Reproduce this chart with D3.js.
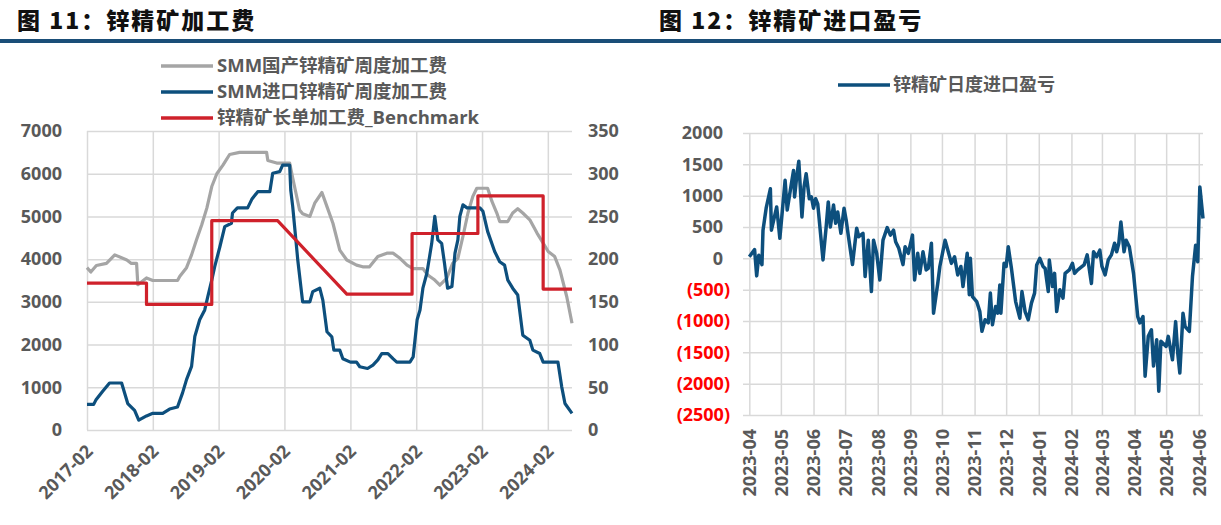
<!DOCTYPE html>
<html>
<head>
<meta charset="utf-8">
<script src="https://cdn.jsdelivr.net/npm/d3@7"></script>
<style>
  body { margin: 0; background: #fff; }
  text { font-family: "Open Sans", "Noto Sans CJK SC", sans-serif; font-weight: 700; }
</style>
</head>
<body>
<svg id="chart" width="1221" height="525"></svg>
<script>
// ---- data: chart 11 (TC, weekly) ----
const domesticTC = [
  ["2017-02-01",3800],["2017-02-22",3700],["2017-03-25",3850],["2017-05-20",3900],["2017-07-05",4100],
  ["2017-09-10",3980],["2017-10-05",3900],["2017-11-03",3900],["2017-11-10",3400],["2017-12-28",3560],
  ["2018-02-01",3500],["2018-06-18",3500],["2018-07-01",3600],["2018-08-07",3800],["2018-09-04",4100],
  ["2018-10-01",4450],["2018-10-30",4800],["2018-11-28",5200],["2018-12-25",5700],["2019-01-22",6000],
  ["2019-02-25",6200],["2019-04-03",6450],["2019-05-28",6500],["2019-10-25",6500],["2019-11-01",6310],
  ["2019-12-20",6250],["2020-03-01",6250],["2020-03-18",5900],["2020-04-25",5150],["2020-05-12",5060],
  ["2020-06-21",5000],["2020-07-18",5310],["2020-08-27",5560],["2020-09-24",5230],["2020-10-27",4840],
  ["2020-12-04",4210],["2021-01-12",3980],["2021-03-07",3860],["2021-04-10",3820],["2021-05-18",3820],
  ["2021-07-03",4060],["2021-08-22",4140],["2021-09-25",4140],["2021-11-03",4020],["2021-12-12",3860],
  ["2022-01-15",3780],["2022-03-10",3780],["2022-04-06",3630],["2022-05-15",3510],["2022-06-12",3390],
  ["2022-07-20",3550],["2022-08-22",3900],["2022-09-20",4020],["2022-10-18",4530],["2022-11-15",5080],
  ["2022-12-12",5470],["2023-01-03",5660],["2023-03-04",5660],["2023-03-28",5350],["2023-04-24",5080],
  ["2023-05-10",4880],["2023-06-24",4880],["2023-07-21",5080],["2023-08-18",5180],["2023-09-15",5080],
  ["2023-10-24",4920],["2023-12-03",4610],["2024-01-01",4410],["2024-02-03",4180],["2024-03-10",4060],
  ["2024-04-08",3750],["2024-05-16",3120],["2024-06-14",2500]
];
const importTC = [
  ["2017-02-01",30],["2017-03-10",30],["2017-03-22",35],["2017-04-28",45],["2017-06-06",55],
  ["2017-08-12",55],["2017-09-15",31],["2017-10-23",23],["2017-11-15",11.5],["2017-12-28",16.5],
  ["2018-02-01",19.5],["2018-03-28",19.5],["2018-05-05",24.5],["2018-06-18",27],["2018-07-16",43.5],
  ["2018-08-07",59],["2018-09-04",74.5],["2018-09-22",109.5],["2018-10-19",129],["2018-11-16",140.5],
  ["2018-12-03",156],["2018-12-25",175.5],["2019-01-10",191],["2019-02-08",214.5],["2019-03-07",238],
  ["2019-04-13",242],["2019-04-19",254],["2019-05-16",260],["2019-07-12",260],["2019-08-04",270],
  ["2019-09-06",279],["2019-11-12",279],["2019-11-28",300.5],["2020-01-06",302.5],["2020-01-22",310],
  ["2020-03-01",310],["2020-03-07",281],["2020-03-18",261.5],["2020-04-15",199],["2020-05-12",150],
  ["2020-06-21",150],["2020-07-07",162],["2020-08-15",166],["2020-09-01",152],["2020-09-24",115],
  ["2020-10-21",109],["2020-11-01",93.5],["2020-12-04",93.5],["2020-12-21",83.5],["2021-02-01",79.5],
  ["2021-03-07",79.5],["2021-03-25",74],["2021-05-07",72],["2021-06-06",76],["2021-07-03",82],
  ["2021-07-25",89.5],["2021-08-28",89.5],["2021-09-25",83.5],["2021-10-16",79.5],["2021-12-28",79.5],
  ["2022-01-15",85.5],["2022-02-06",129],["2022-02-22",140.5],["2022-03-10",166],["2022-04-01",183.5],
  ["2022-04-28",218.5],["2022-05-15",250],["2022-06-01",222.5],["2022-06-22",218.5],["2022-07-08",195],
  ["2022-07-25",166],["2022-08-18",168],["2022-09-04",207],["2022-09-20",222.5],["2022-10-01",250],
  ["2022-10-18",263.5],["2022-11-10",260],["2023-01-20",260],["2023-02-06",256],["2023-03-04",232.5],
  ["2023-04-12",209],["2023-05-10",197],["2023-06-06",193],["2023-06-24",175.5],["2023-07-21",166],
  ["2023-08-18",158],["2023-09-15",111],["2023-10-24",105],["2023-11-10",93.5],["2023-12-18",89.5],
  ["2024-01-06",79.5],["2024-03-28",79.5],["2024-04-18",50.5],["2024-05-06",31],["2024-06-14",19.5]
];
const benchmarkTC = [
  ["2017-02-01",172],["2017-12-28",172],["2017-12-28",147],["2018-12-25",147],["2018-12-25",245],
  ["2019-12-25",245],["2021-01-12",159],["2022-01-09",159],["2022-01-09",230],["2023-01-09",230],
  ["2023-01-09",274],["2024-01-06",274],["2024-01-06",165],["2024-06-14",165]
];
const leftTicks = [0, 1000, 2000, 3000, 4000, 5000, 6000, 7000];
const rightTicks = [0, 50, 100, 150, 200, 250, 300, 350];
const yearLabels = ["2017-02","2018-02","2019-02","2020-02","2021-02","2022-02","2023-02","2024-02"];
const legend11 = ["SMM国产锌精矿周度加工费", "SMM进口锌精矿周度加工费", "锌精矿长单加工费_Benchmark"];

// ---- data: chart 12 (daily import profit) ----
const importProfit = [
  ["2023-04-01",25],["2023-04-06",140],["2023-04-08",-280],["2023-04-10",50],["2023-04-13",-100],
  ["2023-04-14",450],["2023-04-17",800],["2023-04-21",1110],["2023-04-22",450],["2023-04-27",820],
  ["2023-04-30",320],["2023-05-05",1245],["2023-05-07",770],["2023-05-10",1090],["2023-05-13",1400],
  ["2023-05-14",980],["2023-05-16",1300],["2023-05-18",1550],["2023-05-21",660],["2023-05-23",1140],
  ["2023-05-25",1350],["2023-05-28",950],["2023-05-30",980],["2023-06-01",800],["2023-06-03",950],
  ["2023-06-05",870],["2023-06-10",-25],["2023-06-13",500],["2023-06-15",900],["2023-06-17",500],
  ["2023-06-20",850],["2023-06-22",560],["2023-06-24",740],["2023-06-27",400],["2023-06-30",800],
  ["2023-07-02",610],["2023-07-04",370],["2023-07-08",-100],["2023-07-12",480],["2023-07-14",345],
  ["2023-07-18",400],["2023-07-20",-290],["2023-07-23",290],["2023-07-26",-530],["2023-07-28",290],
  ["2023-07-31",80],["2023-08-03",-345],["2023-08-06",290],["2023-08-10",490],["2023-08-13",370],
  ["2023-08-16",450],["2023-08-18",265],["2023-08-21",160],["2023-08-25",-100],["2023-08-27",185],
  ["2023-08-30",80],["2023-09-03",370],["2023-09-05",-345],["2023-09-08",80],["2023-09-10",-240],
  ["2023-09-13",105],["2023-09-16",-185],["2023-09-18",-160],["2023-09-21",240],["2023-09-23",-875],
  ["2023-09-27",-400],["2023-09-29",-130],["2023-10-04",290],["2023-10-07",105],["2023-10-10",-80],
  ["2023-10-13",25],["2023-10-16",-265],["2023-10-19",-130],["2023-10-21",-450],["2023-10-25",80],
  ["2023-10-27",-580],["2023-10-28",0],["2023-10-30",-610],["2023-11-03",-690],["2023-11-06",-850],
  ["2023-11-08",-1165],["2023-11-11",-980],["2023-11-14",-1030],["2023-11-16",-555],["2023-11-18",-1060],
  ["2023-11-21",-770],["2023-11-23",-875],["2023-11-25",-425],["2023-11-26",-875],["2023-11-29",-80],
  ["2023-12-01",-130],["2023-12-03",185],["2023-12-06",-160],["2023-12-10",-690],["2023-12-14",-955],
  ["2023-12-16",-530],["2023-12-19",-850],["2023-12-22",-980],["2023-12-25",-715],["2023-12-28",-555],
  ["2023-12-30",-105],["2024-01-02",0],["2024-01-05",-130],["2024-01-07",-160],["2024-01-10",-530],
  ["2024-01-11",-25],["2024-01-14",-450],["2024-01-16",-240],["2024-01-18",-850],["2024-01-21",-500],
  ["2024-01-24",-635],["2024-01-26",-240],["2024-01-30",-185],["2024-02-02",-80],["2024-02-04",-240],
  ["2024-02-07",-185],["2024-02-13",-105],["2024-02-16",55],["2024-02-20",-400],["2024-02-22",105],
  ["2024-02-25",25],["2024-02-28",130],["2024-03-01",-130],["2024-03-04",-265],["2024-03-07",-25],
  ["2024-03-10",55],["2024-03-13",240],["2024-03-15",105],["2024-03-17",240],["2024-03-19",580],
  ["2024-03-22",105],["2024-03-24",290],["2024-03-27",185],["2024-03-31",-240],["2024-04-04",-930],
  ["2024-04-06",-1030],["2024-04-09",-930],["2024-04-11",-1880],["2024-04-14",-1245],["2024-04-17",-1140],
  ["2024-04-19",-1720],["2024-04-22",-1300],["2024-04-24",-2120],["2024-04-26",-1325],["2024-05-01",-1405],
  ["2024-05-03",-1245],["2024-05-07",-1620],["2024-05-10",-1010],["2024-05-12",-1510],["2024-05-14",-1830],
  ["2024-05-17",-875],["2024-05-19",-1090],["2024-05-23",-1165],["2024-05-26",-290],["2024-05-29",210],
  ["2024-05-31",-55],["2024-06-02",1140],["2024-06-05",635]
];
const profitTicks = [2000, 1500, 1000, 500, 0, -500, -1000, -1500, -2000, -2500];
const monthLabels = ["2023-04","2023-05","2023-06","2023-07","2023-08","2023-09","2023-10","2023-11",
  "2023-12","2024-01","2024-02","2024-03","2024-04","2024-05","2024-06"];
const legend12 = "锌精矿日度进口盈亏";

const GREY_TXT = "#595959", GRID = "#d9d9d9";
const C_DOM = "#a5a5a5", C_IMP = "#0d4f7d", C_BM = "#cf212b";

const parseDay = d3.timeParse("%Y-%m-%d");
const parseMonth = d3.timeParse("%Y-%m");
const svg = d3.select("#chart");

// ---- headers ----
svg.append("rect").attr("x", 0).attr("y", 39).attr("width", 1221).attr("height", 4).attr("fill", "#1a4e78");
svg.append("text").attr("x", 17).attr("y", 29).attr("font-size", 23).attr("letter-spacing", 2)
  .attr("fill", "#111").style("font-family", "'Noto Sans CJK SC'").style("font-weight", 900)
  .text("图 11：锌精矿加工费");
svg.append("text").attr("x", 659).attr("y", 29).attr("font-size", 23).attr("letter-spacing", 2)
  .attr("fill", "#111").style("font-family", "'Noto Sans CJK SC'").style("font-weight", 900)
  .text("图 12：锌精矿进口盈亏");

let styleGrid = (g) => {
  g.select(".domain").remove();
  g.selectAll("line").attr("stroke", GRID).attr("stroke-width", 1.5);
};
let styleLabels = (g) => {
  g.select(".domain").remove();
  g.selectAll("text").attr("font-size", 18).attr("fill", GREY_TXT);
};

// ---- chart 11 ----
const xL = d3.scaleTime().domain([parseDay("2017-02-01"), parseDay("2024-06-14")]).range([87, 572]);
const yL = d3.scaleLinear().domain([0, 7000]).range([430, 131]);
const yR = d3.scaleLinear().domain([0, 350]).range([430, 131]);
const yearDates = yearLabels.map(parseMonth);

svg.append("g").attr("transform", "translate(87,0)")
  .call(d3.axisLeft(yL).tickValues(leftTicks).tickSize(-485).tickFormat(""))
  .call(styleGrid);
svg.append("g").attr("transform", "translate(0,430)")
  .call(d3.axisBottom(xL).tickValues(yearDates).tickSize(-299).tickFormat(""))
  .call(styleGrid);

svg.append("g").attr("transform", "translate(87,0)")
  .call(d3.axisLeft(yL).tickValues(leftTicks).tickSize(0).tickPadding(25).tickFormat(d3.format("d")))
  .call(styleLabels);
svg.append("g").attr("transform", "translate(572,0)")
  .call(d3.axisRight(yR).tickValues(rightTicks).tickSize(0).tickPadding(16).tickFormat(d3.format("d")))
  .call(styleLabels);
svg.append("g").attr("transform", "translate(0,430)")
  .call(d3.axisBottom(xL).tickValues(yearDates).tickSize(0).tickFormat(d3.timeFormat("%Y-%m")))
  .call(styleLabels)
  .selectAll("text")
  .attr("text-anchor", "end").attr("x", 0).attr("y", 0).attr("dy", "0.35em")
  .attr("transform", "translate(2,18) rotate(-45)");

let lineL = d3.line().x((d) => xL(parseDay(d[0]))).y((d) => yL(d[1]));
let lineR = d3.line().x((d) => xL(parseDay(d[0]))).y((d) => yR(d[1]));
let series11 = [
  { data: domesticTC, gen: lineL, color: C_DOM },
  { data: importTC, gen: lineR, color: C_IMP },
  { data: benchmarkTC, gen: lineR, color: C_BM }
];
svg.append("g").selectAll("path").data(series11).join("path")
  .attr("d", (s) => s.gen(s.data))
  .attr("fill", "none").attr("stroke", (s) => s.color).attr("stroke-width", 3.2)
  .attr("stroke-linejoin", "round");

let leg11 = svg.append("g").selectAll("g").data(legend11).join("g")
  .attr("transform", (d, i) => `translate(161,${66 + i * 26})`);
leg11.append("line").attr("x1", 0).attr("x2", 52)
  .attr("stroke", (d, i) => series11[i].color).attr("stroke-width", 3.5);
leg11.append("text").attr("x", 56).attr("dy", "0.35em").attr("font-size", 18.5).attr("fill", GREY_TXT)
  .text((d) => d);

// ---- chart 12 ----
const xP = d3.scaleTime().domain([parseDay("2023-03-26"), parseDay("2024-06-05")]).range([743, 1203]);
const yP = d3.scaleLinear().domain([-2500, 2000]).range([415, 133]);
const monthDates = monthLabels.map(parseMonth);

svg.append("g").attr("transform", "translate(743,0)")
  .call(d3.axisLeft(yP).tickValues(profitTicks).tickSize(-460).tickFormat(""))
  .call(styleGrid);
svg.append("g").attr("transform", "translate(0,415)")
  .call(d3.axisBottom(xP).tickValues(monthDates).tickSize(-282).tickFormat(""))
  .call(styleGrid);

svg.append("g").attr("transform", "translate(743,0)")
  .call(d3.axisLeft(yP).tickValues(profitTicks).tickSize(0).tickPadding(13)
    .tickFormat((v) => v < 0 ? `(${-v})` : `${v}`))
  .call(styleLabels)
  .selectAll("text")
  .attr("fill", (v) => v < 0 ? "#ff0000" : GREY_TXT)
  .attr("dx", (v) => v < 0 ? 0 : -7);
svg.append("g").attr("transform", "translate(0,415)")
  .call(d3.axisBottom(xP).tickValues(monthDates).tickSize(0).tickFormat(d3.timeFormat("%Y-%m")))
  .call(styleLabels)
  .selectAll("text")
  .attr("text-anchor", "end").attr("x", 0).attr("y", 0).attr("dy", "0.35em")
  .attr("transform", "translate(0,14) rotate(-90)");

svg.append("path").datum(importProfit)
  .attr("d", d3.line().x((d) => xP(parseDay(d[0]))).y((d) => yP(d[1])))
  .attr("fill", "none").attr("stroke", C_IMP).attr("stroke-width", 3.5)
  .attr("stroke-linejoin", "round");

let leg12 = svg.append("g").attr("transform", "translate(838,85)");
leg12.append("line").attr("x1", 0).attr("x2", 52).attr("stroke", C_IMP).attr("stroke-width", 3.5);
leg12.append("text").attr("x", 55).attr("dy", "0.35em").attr("font-size", 18).attr("fill", GREY_TXT)
  .text(legend12);
</script>
</body>
</html>
